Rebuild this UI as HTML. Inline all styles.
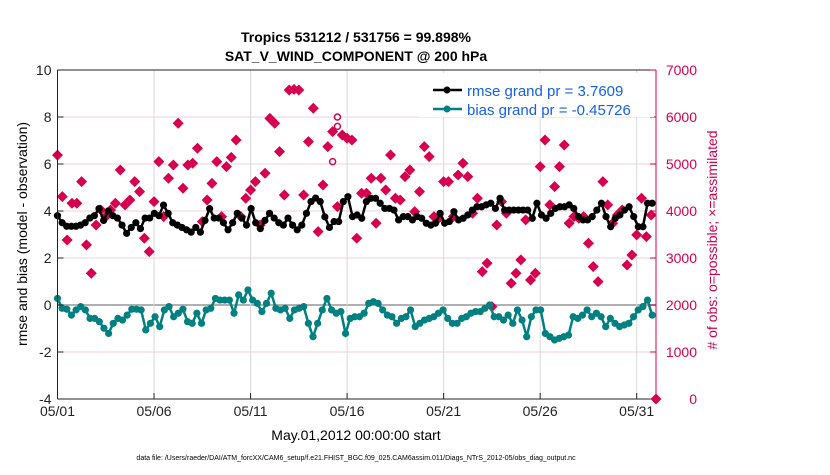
<!DOCTYPE html>
<html><head><meta charset="utf-8"><style>
body{margin:0;background:#fff;font-family:"Liberation Sans",sans-serif}
svg text{font-family:"Liberation Sans",sans-serif}
</style></head><body>
<svg id="chart" width="830" height="470" viewBox="0 0 830 470" xmlns="http://www.w3.org/2000/svg">
<text x="356" y="42" text-anchor="middle" font-size="14" font-weight="bold">Tropics 531212 / 531756 = 99.898%</text>
<text x="356" y="61" text-anchor="middle" font-size="14" font-weight="bold">SAT_V_WIND_COMPONENT @ 200 hPa</text>
<g id="grid"></g><g id="marks"></g><g id="axes"></g>
<text transform="translate(27,234) rotate(-90)" text-anchor="middle" font-size="14">rmse and bias (model - observation)</text>
<text transform="translate(717,240) rotate(-90)" text-anchor="middle" font-size="14" fill="#d1004f"># of obs: o=possible; ×=assimilated</text>
<text x="356" y="440" text-anchor="middle" font-size="14">May.01,2012 00:00:00 start</text>
<text x="356" y="460" text-anchor="middle" font-size="7">data file: /Users/raeder/DAI/ATM_forcXX/CAM6_setup/f.e21.FHIST_BGC.f09_025.CAM6assim.011/Diags_NTrS_2012-05/obs_diag_output.nc</text>
<g>
<rect x="418" y="73" width="236" height="44" fill="#fff"/>
<line x1="433" y1="90" x2="462" y2="90" stroke="#000" stroke-width="2.5"/><circle cx="447" cy="90" r="3.5"/>
<text x="467" y="96" font-size="15" fill="#1460e6">rmse grand pr = 3.7609</text>
<line x1="433" y1="109" x2="462" y2="109" stroke="#008080" stroke-width="2.5"/><circle cx="447" cy="109" r="3.5" fill="#008080"/>
<text x="467" y="115" font-size="15" fill="#1460e6">bias grand pr = -0.45726</text>
</g>
</svg>
<script>
const rmse=[3.8,3.5,3.35,3.35,3.35,3.4,3.5,3.7,3.8,4.1,3.6,4.0,3.8,3.7,3.4,3.05,3.3,3.5,3.25,3.7,3.7,3.9,3.8,4.25,3.9,3.5,3.4,3.3,3.2,3.1,3.3,3.1,3.6,4.1,3.7,3.7,3.5,3.2,3.5,3.9,3.7,3.4,4.1,3.5,3.25,3.6,3.9,3.7,3.5,3.4,3.7,3.4,3.2,3.4,3.9,4.4,4.55,4.4,3.75,3.3,3.55,3.55,4.4,4.61,3.76,3.83,3.69,4.40,4.54,4.54,4.33,4.11,4.11,4.04,3.62,3.76,3.76,3.62,3.76,3.69,3.48,3.40,3.48,3.90,3.48,3.55,3.97,3.62,3.69,3.83,4.04,4.18,4.18,4.26,4.33,4.11,4.54,4.04,4.04,4.04,4.04,4.04,4.04,3.69,4.33,3.83,3.69,3.90,4.11,4.18,4.18,4.26,4.11,3.76,3.62,3.62,3.76,4.04,4.33,3.76,3.33,3.69,3.83,4.04,4.18,3.76,3.33,3.33,4.33,4.33];
const bias=[0.28,-0.14,-0.18,-0.43,-0.21,-0.07,-0.21,-0.57,-0.57,-0.71,-0.99,-1.21,-0.78,-0.57,-0.64,-0.43,-0.18,-0.18,-0.21,-1.06,-0.78,-0.50,-0.92,-0.21,-0.07,-0.50,-0.35,-0.18,-0.71,-0.78,-0.35,-0.78,-0.21,-0.14,0.28,0.21,0.21,0.21,-0.35,0.43,0.21,0.64,0.21,0.07,-0.28,0.07,0.50,-0.14,-0.21,-0.14,-0.57,-0.21,-0.14,-0.07,-0.78,-1.35,-0.78,-0.21,0.28,-0.21,-0.35,-0.28,-1.21,-0.57,-0.50,-0.50,-0.35,0.07,0.14,0.07,-0.21,-0.43,-0.50,-0.78,-0.57,-0.50,-0.21,-0.92,-0.78,-0.64,-0.57,-0.50,-0.35,-0.21,-0.57,-0.78,-0.78,-0.57,-0.50,-0.35,-0.28,-0.28,-0.14,0.0,-0.50,-0.50,-0.64,-0.43,-0.78,-0.21,-0.64,-1.35,-0.50,-0.21,-0.21,-1.21,-1.35,-1.49,-1.42,-1.35,-1.28,-0.50,-0.57,-0.43,-0.21,-0.50,-0.35,-0.50,-0.92,-0.57,-0.78,-0.92,-0.85,-0.78,-0.50,-0.21,-0.07,0.21,-0.43];
const obsUsed=[5190,4306,3384,4164,4164,4625,3278,2675,3703,4022,3880,4022,4164,4873,4129,4235,4625,4412,3420,3136,4199,5050,3880,4696,4979,5866,4483,4979,5015,5334,3774,4235,4589,5050,3880,4944,5142,5511,3880,4270,4448,4625,3703,4802,5972,5866,5263,4341,6575,6589,6575,4341,5476,6185,3561,4554,5369,5688,4093,5617,5547,5511,3420,4377,4377,4696,3739,4696,4448,5192,4270,4235,4731,4873,3987,4412,5369,5157,3880,3845,4625,4625,3880,4767,5015,4731,3951,4270,2711,2888,1966,3703,4199,3951,2462,2675,2959,3810,2533,2675,4944,5511,4129,4519,4944,5405,3739,3880,3845,3880,3313,2817,2498,4625,4129,3739,3915,4022,2852,3065,3491,4270,3455,3915,0];
const obsPossibleExtra=[6000,5800,5050];
const obsPossibleIdx=[58,58,57];
const yTicks=[-4,-2,0,2,4,6,8,10];
const y2Ticks=[0,1000,2000,3000,4000,5000,6000,7000];
const xTickDays=[0,5,10,15,20,25,30];
const xTickLabels=["05/01","05/06","05/11","05/16","05/21","05/26","05/31"];

const L=57.5,R=656,T=70,B=399,TEND=31;
const X=d=>L+(d/TEND)*(R-L);
const Y=v=>B-(v+4)/14*(B-T);
const Y2=v=>B-v/7000*(B-T);
const NS="http://www.w3.org/2000/svg";
function mk(parent,tag,attrs){const e=document.createElementNS(NS,tag);for(const k in attrs)e.setAttribute(k,attrs[k]);document.getElementById(parent).appendChild(e);return e;}
const tOf=(i,n)=>i*30.8/(n-1);

mk('grid','rect',{x:L,y:T,width:R-L,height:B-T,fill:'#fff'});
yTicks.forEach(v=>{const e=mk('grid','line',{x1:L,x2:R,y1:Y(v),y2:Y(v),stroke:v===0?'#b0b0b0':'#f3cfdc','stroke-width':v===0?2:1});

});
xTickDays.forEach(d=>{const e=mk('grid','line',{x1:X(d),x2:X(d),y1:T,y2:B,stroke:'#d8d8d8','stroke-width':1});

});

obsUsed.forEach((v,i)=>{const x=X(i*31/(obsUsed.length-1)),y=Y2(v);
const e=mk('marks','path',{d:`M${x} ${y-5.5}L${x+5.5} ${y}L${x} ${y+5.5}L${x-5.5} ${y}Z`,fill:'#d6004f'});

});
obsPossibleExtra.forEach((v,k)=>{const x=X(obsPossibleIdx[k]*31/(obsUsed.length-1)),y=Y2(v);
const e=mk('marks','circle',{cx:x,cy:y,r:3,fill:'#fff',stroke:'#d6004f','stroke-width':1.5});

});

function series(arr,color,name){
 const pts=arr.map((v,i)=>[X(tOf(i,arr.length)),Y(v)]);
 const pl=mk('marks','polyline',{points:pts.map(p=>p.join(',')).join(' '),fill:'none',stroke:color,'stroke-width':2.5});
 
 
 pts.forEach(p=>{const c=mk('marks','circle',{cx:p[0],cy:p[1],r:3.6,fill:color});
 
 });
}
series(rmse,'#000','rmse');
series(bias,'#008080','bias');

mk('axes','line',{x1:L,x2:R,y1:T,y2:T,stroke:'#222'});
mk('axes','line',{x1:L,x2:R,y1:B,y2:B,stroke:'#222'});
mk('axes','line',{x1:L,x2:L,y1:T,y2:B,stroke:'#222'});
mk('axes','line',{x1:R,x2:R,y1:T,y2:B,stroke:'#d6004f'});
yTicks.forEach(v=>{mk('axes','line',{x1:L,x2:L+6,y1:Y(v),y2:Y(v),stroke:'#222'});
const t=mk('axes','text',{x:L-6,y:Y(v)+5,'text-anchor':'end','font-size':14,fill:'#222'});t.textContent=v;

});
y2Ticks.forEach(v=>{mk('axes','line',{x1:R-6,x2:R,y1:Y2(v),y2:Y2(v),stroke:'#d6004f'});
const t=mk('axes','text',{x:697,y:Y2(v)+5,'text-anchor':'end','font-size':14,fill:'#d6004f'});t.textContent=v;

});
xTickDays.forEach((d,i)=>{mk('axes','line',{x1:X(d),x2:X(d),y1:B-6,y2:B,stroke:'#222'});
const t=mk('axes','text',{x:X(d),y:B+17,'text-anchor':'middle','font-size':14,fill:'#222'});t.textContent=xTickLabels[i];

});
</script>
</body></html>
